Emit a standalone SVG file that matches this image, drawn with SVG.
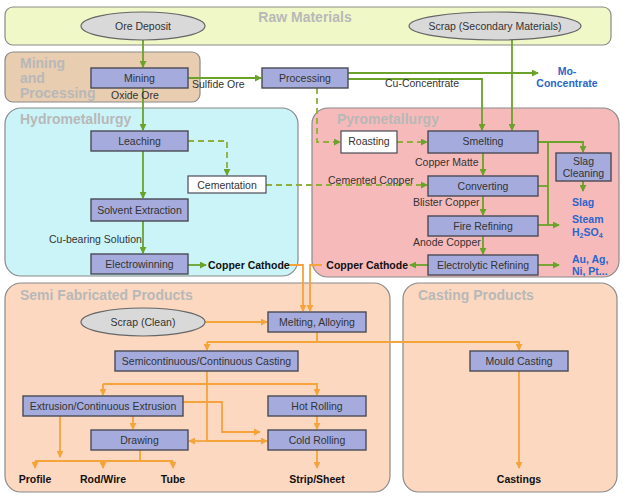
<svg xmlns="http://www.w3.org/2000/svg" width="623" height="500" viewBox="0 0 623 500">
<defs>
<marker id="ag" viewBox="0 0 8 8" refX="7" refY="4" markerWidth="7" markerHeight="7" orient="auto" markerUnits="userSpaceOnUse"><path d="M0,0 L8,4 L0,8 z" fill="#6aa22a"/></marker>
<marker id="ao" viewBox="0 0 8 8" refX="7" refY="4" markerWidth="7" markerHeight="7" orient="auto" markerUnits="userSpaceOnUse"><path d="M0,0 L8,4 L0,8 z" fill="#f4a43a"/></marker>
<style>
.panel{stroke:#8a8a8a;stroke-width:1.2}
.ptitle{font-family:"Liberation Sans",Arial,sans-serif;font-size:14px;font-weight:bold;fill:#b8b8b8}
.box{fill:#a5abdc;stroke:#4a4a55;stroke-width:1.4}
.wbox{fill:#ffffff;stroke:#4a4a55;stroke-width:1.2}
.ell{fill:#d9d9d9;stroke:#666;stroke-width:1.2}
.t{font-family:"Liberation Sans",Arial,sans-serif;font-size:10.5px;fill:#333;text-anchor:middle}
.lab{font-family:"Liberation Sans",Arial,sans-serif;font-size:10.5px;fill:#333}
.out{font-family:"Liberation Sans",Arial,sans-serif;font-size:10.5px;font-weight:bold;fill:#111}
.blue{font-family:"Liberation Sans",Arial,sans-serif;font-size:10.5px;font-weight:bold;fill:#2a66cc}
.g{fill:none;stroke:#6aa22a;stroke-width:1.8}
.gd{fill:none;stroke:#8fae3c;stroke-width:1.8;stroke-dasharray:6,4}
.o{fill:none;stroke:#f4a43a;stroke-width:1.8}
</style>
</defs>

<g id="panels">
<rect class="panel" x="5" y="7" width="606" height="38" rx="8" fill="#f0f8c8"/>
<text class="ptitle" x="305" y="22" text-anchor="middle">Raw Materials</text>
<rect class="panel" x="5" y="52" width="195" height="50" rx="8" fill="#e8cdb0"/>
<text class="ptitle" x="20" y="68">Mining</text>
<text class="ptitle" x="20" y="83">and</text>
<text class="ptitle" x="20" y="98">Processing</text>
<rect class="panel" x="5" y="108" width="293" height="168" rx="16" fill="#cbf4f9"/>
<text class="ptitle" x="20" y="124">Hydrometallurgy</text>
<rect class="panel" x="312" y="108" width="307" height="169" rx="16" fill="#f7baba"/>
<text class="ptitle" x="337" y="124">Pyrometallurgy</text>
<rect class="panel" x="5" y="283" width="385" height="209" rx="16" fill="#fcd8c0"/>
<text class="ptitle" x="20" y="300">Semi Fabricated Products</text>
<rect class="panel" x="403" y="283" width="214" height="209" rx="16" fill="#fcd8c0"/>
<text class="ptitle" x="418" y="300">Casting Products</text>
</g>

<g id="connectors">
<!-- green -->
<path class="g" d="M143,40 V67" marker-end="url(#ag)"/>
<path class="g" d="M143,88 V130" marker-end="url(#ag)"/>
<path class="g" d="M188,78 H261" marker-end="url(#ag)"/>
<path class="g" d="M348,73 H538" marker-end="url(#ag)"/>
<path class="g" d="M348,79 H482 V130" marker-end="url(#ag)"/>
<path class="g" d="M512,40 V130" marker-end="url(#ag)"/>
<path class="gd" d="M317,88 V142 H340" marker-end="url(#ag)"/>
<path class="gd" d="M397,142 H427" marker-end="url(#ag)"/>
<path class="gd" d="M188,141 H227 V175" marker-end="url(#ag)"/>
<path class="gd" d="M266,185 H427" marker-end="url(#ag)"/>
<path class="g" d="M143,151 V198" marker-end="url(#ag)"/>
<path class="g" d="M143,221 V253" marker-end="url(#ag)"/>
<path class="g" d="M188,265 H206" marker-end="url(#ag)"/>
<path class="g" d="M483,153 V175" marker-end="url(#ag)"/>
<path class="g" d="M483,196 V215" marker-end="url(#ag)"/>
<path class="g" d="M483,236 V254" marker-end="url(#ag)"/>
<path class="g" d="M428,265 H410" marker-end="url(#ag)"/>
<path class="g" d="M538,265 H559" marker-end="url(#ag)"/>
<path class="g" d="M538,142 H583 V152" marker-end="url(#ag)"/>
<path class="g" d="M548,142 V225"/>
<path class="g" d="M538,186 H548"/>
<path class="g" d="M538,225 H559" marker-end="url(#ag)"/>
<path class="g" d="M583,181 V191" marker-end="url(#ag)"/>
<!-- orange -->
<path class="o" d="M288,265 H303 V311" marker-end="url(#ao)"/>
<path class="o" d="M322,265 H310 V311" marker-end="url(#ao)"/>
<path class="o" d="M205,322 H267" marker-end="url(#ao)"/>
<path class="o" d="M317,332 V342"/>
<path class="o" d="M207,342 H519 V350" marker-end="url(#ao)"/>
<path class="o" d="M207,342 V350" marker-end="url(#ao)"/>
<path class="o" d="M207,371 V441"/>
<path class="o" d="M103,384 H317 V395" marker-end="url(#ao)"/>
<path class="o" d="M103,384 V395" marker-end="url(#ao)"/>
<path class="o" d="M207,441 H189" marker-end="url(#ao)"/>
<path class="o" d="M207,441 H267" marker-end="url(#ao)"/>
<path class="o" d="M183,402 H222 V432 H260" marker-end="url(#ao)"/>
<path class="o" d="M60,416 V457" marker-end="url(#ao)"/>
<path class="o" d="M133,416 V429" marker-end="url(#ao)"/>
<path class="o" d="M140,450 V461"/>
<path class="o" d="M35,461 H173"/>
<path class="o" d="M35,461 V468" marker-end="url(#ao)"/>
<path class="o" d="M103,461 V468" marker-end="url(#ao)"/>
<path class="o" d="M173,461 V468" marker-end="url(#ao)"/>
<path class="o" d="M317,416 V429" marker-end="url(#ao)"/>
<path class="o" d="M317,450 V468" marker-end="url(#ao)"/>
<path class="o" d="M519,371 V468" marker-end="url(#ao)"/>
</g>

<g id="ore-deposit"><ellipse class="ell" cx="143" cy="26" rx="62" ry="14"/><text class="t" x="143" y="30">Ore Deposit</text></g>
<g id="scrap-secondary"><ellipse class="ell" cx="495" cy="26" rx="86" ry="14"/><text class="t" x="495" y="30">Scrap (Secondary Materials)</text></g>
<g id="mining"><rect class="box" x="91" y="68" width="97" height="20"/><text class="t" x="139.5" y="82">Mining</text></g>
<g id="processing"><rect class="box" x="262" y="68" width="86" height="20"/><text class="t" x="305" y="82">Processing</text></g>
<g id="labels-mining">
<text class="lab" x="192" y="88">Sulfide Ore</text>
<text class="lab" x="111" y="99">Oxide Ore</text>
<text class="lab" x="385" y="87">Cu-Concentrate</text>
<text class="blue" x="567" y="75" text-anchor="middle">Mo-</text>
<text class="blue" x="567" y="87" text-anchor="middle">Concentrate</text>
</g>
<g id="leaching"><rect class="box" x="91" y="131" width="97" height="20"/><text class="t" x="139.5" y="145">Leaching</text></g>
<g id="cementation"><rect class="wbox" x="188" y="176" width="78" height="17"/><text class="t" x="227" y="189">Cementation</text></g>
<g id="solvent-extraction"><rect class="box" x="91" y="199" width="97" height="22"/><text class="t" x="139.5" y="214">Solvent Extraction</text></g>
<g id="electrowinning"><rect class="box" x="91" y="254" width="97" height="20"/><text class="t" x="139.5" y="268">Electrowinning</text></g>
<g id="labels-hydro">
<text class="lab" x="49" y="243">Cu-bearing Solution</text>
<text class="out" x="208" y="269">Copper Cathode</text>
</g>
<g id="roasting"><rect class="wbox" x="341" y="131" width="56" height="22"/><text class="t" x="369" y="145">Roasting</text></g>
<g id="smelting"><rect class="box" x="428" y="131" width="110" height="22"/><text class="t" x="483" y="145">Smelting</text></g>
<g id="slag-cleaning"><rect class="box" x="556" y="153" width="55" height="28"/><text class="t" x="583.5" y="165">Slag</text><text class="t" x="583.5" y="177">Cleaning</text></g>
<g id="converting"><rect class="box" x="428" y="176" width="110" height="20"/><text class="t" x="483" y="190">Converting</text></g>
<g id="fire-refining"><rect class="box" x="428" y="216" width="110" height="20"/><text class="t" x="483" y="230">Fire Refining</text></g>
<g id="electrolytic-refining"><rect class="box" x="428" y="255" width="110" height="20"/><text class="t" x="483" y="269">Electrolytic Refining</text></g>
<g id="labels-pyro">
<text class="lab" x="415" y="166">Copper Matte</text>
<text class="lab" x="328" y="184">Cemented Copper</text>
<text class="lab" x="413" y="206">Blister Copper</text>
<text class="lab" x="413" y="246">Anode Copper</text>
<text class="out" x="408" y="269" text-anchor="end">Copper Cathode</text>
<text class="blue" x="572" y="206">Slag</text>
<text class="blue" x="572" y="223">Steam</text>
<text class="blue" x="572" y="236">H<tspan font-size="7" dy="2">2</tspan><tspan dy="-2">SO</tspan><tspan font-size="7" dy="2">4</tspan></text>
<text class="blue" x="572" y="263">Au, Ag,</text>
<text class="blue" x="572" y="275">Ni, Pt...</text>
</g>
<g id="scrap-clean"><ellipse class="ell" cx="143" cy="322" rx="62" ry="14"/><text class="t" x="143" y="326">Scrap (Clean)</text></g>
<g id="melting-alloying"><rect class="box" x="268" y="312" width="98" height="20"/><text class="t" x="317" y="326">Melting, Alloying</text></g>
<g id="semicontinuous-casting"><rect class="box" x="115" y="351" width="183" height="20"/><text class="t" x="206.5" y="365">Semicontinuous/Continuous Casting</text></g>
<g id="extrusion"><rect class="box" x="23" y="396" width="160" height="20"/><text class="t" x="103" y="410">Extrusion/Continuous Extrusion</text></g>
<g id="hot-rolling"><rect class="box" x="268" y="396" width="98" height="20"/><text class="t" x="317" y="410">Hot Rolling</text></g>
<g id="drawing"><rect class="box" x="91" y="430" width="97" height="20"/><text class="t" x="139.5" y="444">Drawing</text></g>
<g id="cold-rolling"><rect class="box" x="268" y="430" width="98" height="20"/><text class="t" x="317" y="444">Cold Rolling</text></g>
<g id="mould-casting"><rect class="box" x="470" y="351" width="98" height="20"/><text class="t" x="519" y="365">Mould Casting</text></g>
<g id="outputs">
<text class="out" x="35" y="483" text-anchor="middle">Profile</text>
<text class="out" x="103" y="483" text-anchor="middle">Rod/Wire</text>
<text class="out" x="173" y="483" text-anchor="middle">Tube</text>
<text class="out" x="317" y="483" text-anchor="middle">Strip/Sheet</text>
<text class="out" x="519" y="483" text-anchor="middle">Castings</text>
</g>
</svg>
